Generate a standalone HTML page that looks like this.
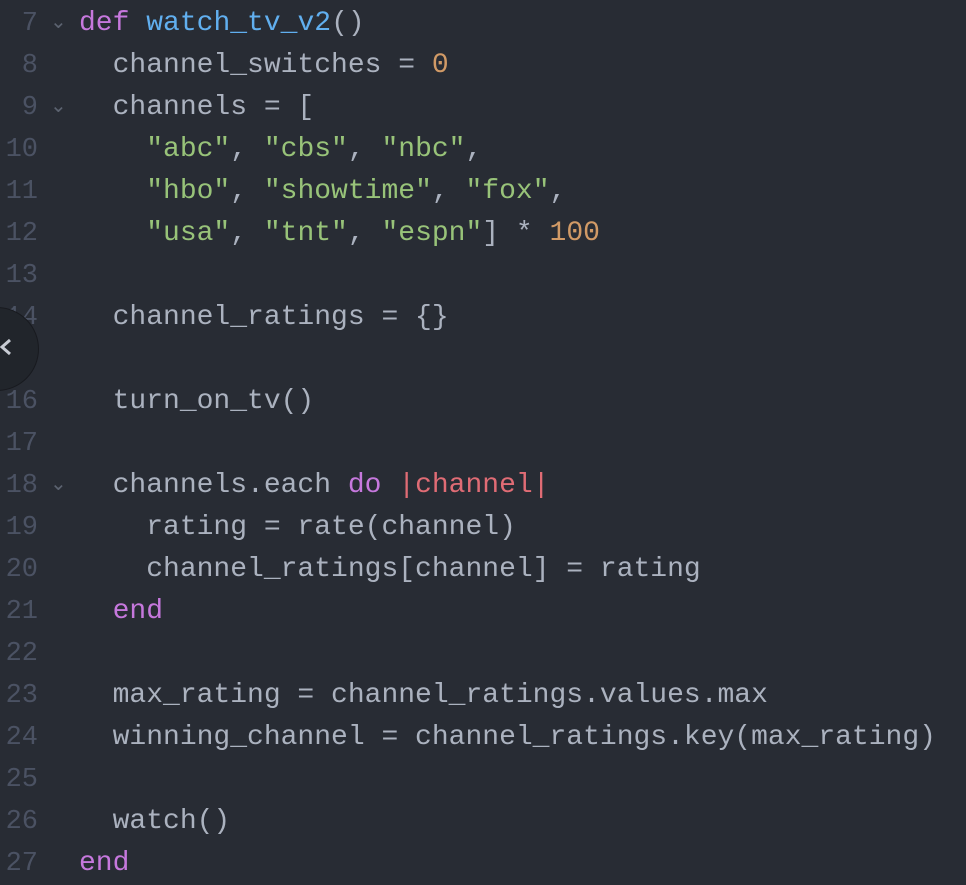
<!DOCTYPE html>
<html><head><meta charset="utf-8"><style>
body{margin:0;width:966px;height:882px;background:#282c34;overflow:hidden;position:relative;font-family:"Liberation Mono",monospace;font-size:28px;}
.w{position:absolute;left:0;top:3px;width:966px;}
.l{position:absolute;left:0;height:42px;line-height:42px;white-space:pre;color:#abb2bf;}
.n{position:absolute;left:0;width:38px;text-align:right;color:#4b5263;font-size:27px;}
.f{position:absolute;left:50px;color:#5c6370;font-size:20px;}
.c{position:absolute;left:79px;}
.k{color:#c678dd}.fn{color:#61afef}.s{color:#98c379}.num{color:#d19a66}.v{color:#e06c75}
.circ{position:absolute;left:-45px;top:307px;width:82px;height:82px;border-radius:50%;background:#21252b;border:1px solid #181a1f;}
</style></head><body>
<div class="w">
<div class="l" style="top:0px"><span class="n">7</span><span class="f">⌄</span><span class="c"><span class="k">def</span> <span class="fn">watch_tv_v2</span>()</span></div>
<div class="l" style="top:42px"><span class="n">8</span><span class="c">  channel_switches = <span class="num">0</span></span></div>
<div class="l" style="top:84px"><span class="n">9</span><span class="f">⌄</span><span class="c">  channels = [</span></div>
<div class="l" style="top:126px"><span class="n">10</span><span class="c">    <span class="s">"abc"</span>, <span class="s">"cbs"</span>, <span class="s">"nbc"</span>,</span></div>
<div class="l" style="top:168px"><span class="n">11</span><span class="c">    <span class="s">"hbo"</span>, <span class="s">"showtime"</span>, <span class="s">"fox"</span>,</span></div>
<div class="l" style="top:210px"><span class="n">12</span><span class="c">    <span class="s">"usa"</span>, <span class="s">"tnt"</span>, <span class="s">"espn"</span>] * <span class="num">100</span></span></div>
<div class="l" style="top:252px"><span class="n">13</span></div>
<div class="l" style="top:294px"><span class="n">14</span><span class="c">  channel_ratings = {}</span></div>
<div class="l" style="top:336px"><span class="n">15</span></div>
<div class="l" style="top:378px"><span class="n">16</span><span class="c">  turn_on_tv()</span></div>
<div class="l" style="top:420px"><span class="n">17</span></div>
<div class="l" style="top:462px"><span class="n">18</span><span class="f">⌄</span><span class="c">  channels.each <span class="k">do</span> <span class="v">|channel|</span></span></div>
<div class="l" style="top:504px"><span class="n">19</span><span class="c">    rating = rate(channel)</span></div>
<div class="l" style="top:546px"><span class="n">20</span><span class="c">    channel_ratings[channel] = rating</span></div>
<div class="l" style="top:588px"><span class="n">21</span><span class="c">  <span class="k">end</span></span></div>
<div class="l" style="top:630px"><span class="n">22</span></div>
<div class="l" style="top:672px"><span class="n">23</span><span class="c">  max_rating = channel_ratings.values.max</span></div>
<div class="l" style="top:714px"><span class="n">24</span><span class="c">  winning_channel = channel_ratings.key(max_rating)</span></div>
<div class="l" style="top:756px"><span class="n">25</span></div>
<div class="l" style="top:798px"><span class="n">26</span><span class="c">  watch()</span></div>
<div class="l" style="top:840px"><span class="n">27</span><span class="c"><span class="k">end</span></span></div>
</div>
<div class="circ"></div>
<svg style="position:absolute;left:0;top:336px" width="14" height="22"><polyline points="10,4 2,11 10,18" fill="none" stroke="#c8ccd4" stroke-width="3"/></svg>
</body></html>
